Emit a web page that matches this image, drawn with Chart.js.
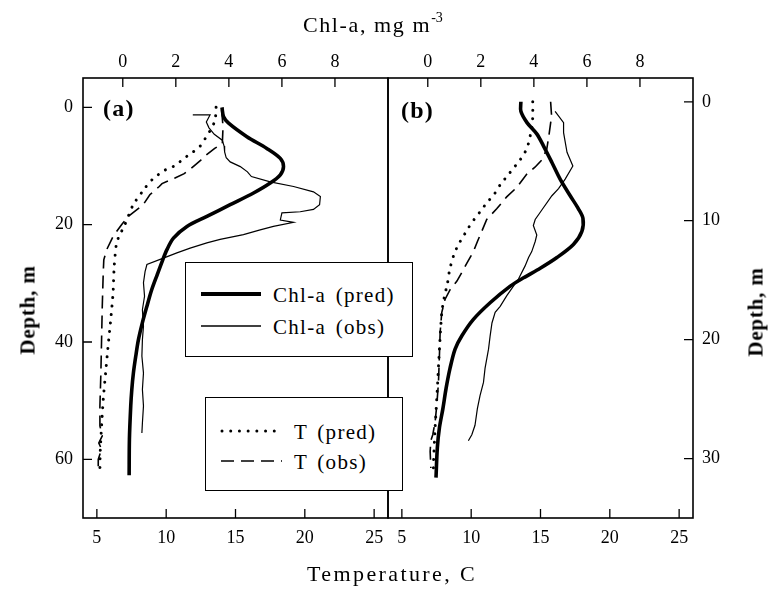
<!DOCTYPE html>
<html><head><meta charset="utf-8">
<script src="https://cdn.jsdelivr.net/npm/chart.js@4.4.0/dist/chart.umd.min.js"></script>
<style>
html,body{margin:0;padding:0;background:#fff;}
#wrap{position:relative;width:775px;height:591px;overflow:hidden;font-family:"Liberation Serif","Times New Roman",serif;color:#000;}
#c{position:absolute;left:0;top:0;}
.t{position:absolute;white-space:nowrap;line-height:1;}
.leg{position:absolute;background:#fff;border:1.4px solid #000;box-sizing:border-box;}
.leg svg{position:absolute;left:0;top:0;}
.lt{position:absolute;white-space:nowrap;font-size:21px;line-height:1;letter-spacing:1.3px;word-spacing:3px;transform:translateY(-50%);}
</style></head>
<body><div id="wrap">
<canvas id="c" width="775" height="591"></canvas>
<div class="t" style="left:303px;top:14px;font-size:22px;letter-spacing:1.6px;">Chl-a, mg m<span style="font-size:14px;position:relative;top:-10px;letter-spacing:0;">-3</span></div>
<div class="t" style="left:307px;top:563px;font-size:22px;letter-spacing:2.4px;">Temperature, C</div>
<div class="t" style="left:103px;top:96px;font-size:24px;font-weight:bold;letter-spacing:1.2px;">(a)</div>
<div class="t" style="left:401px;top:98px;font-size:24px;font-weight:bold;letter-spacing:1.2px;">(b)</div>
<div class="t" style="left:28px;top:310px;font-size:21px;font-weight:bold;letter-spacing:0.8px;transform:translate(-50%,-50%) rotate(-90deg);">Depth, m</div>
<div class="t" style="left:756px;top:312px;font-size:21px;font-weight:bold;letter-spacing:0.8px;transform:translate(-50%,-50%) rotate(-90deg);">Depth, m</div>
<div class="leg" style="left:185px;top:262px;width:228px;height:95px;">
  <svg width="228" height="95"><line x1="15" y1="31" x2="75" y2="31" stroke="#000" stroke-width="4"/><line x1="15" y1="63" x2="75" y2="63" stroke="#000" stroke-width="1.3"/></svg>
  <div class="lt" style="left:87px;top:32px;">Chl-a (pred)</div>
  <div class="lt" style="left:87px;top:64px;">Chl-a (obs)</div>
</div>
<div class="leg" style="left:205px;top:397px;width:198px;height:94px;">
  <svg width="198" height="94"><line x1="16" y1="33" x2="76" y2="33" stroke="#000" stroke-width="3" stroke-linecap="round" stroke-dasharray="0.01 8.7"/><line x1="15" y1="63" x2="76" y2="63" stroke="#000" stroke-width="1.6" stroke-dasharray="13 7"/></svg>
  <div class="lt" style="left:88px;top:34px;">T (pred)</div>
  <div class="lt" style="left:88px;top:64px;">T (obs)</div>
</div>
</div>
<script>
// ---- tick labels ----
const depthTicksA = [0, 20, 40, 60];
const depthTicksB = [0, 10, 20, 30];
const tempTicks = [5, 10, 15, 20, 25];
const chlTicks = [0, 2, 4, 6, 8];

// ---- panel (a) ----
const aChlPredDepth = [0, 1.6, 2.7, 5.0, 7.0, 8.7, 10.1, 11.5, 12.9, 14.6, 16.6, 18.6, 20.3, 22.3, 24.3, 26.2, 28.5, 31.1, 33.9, 36.7, 39.6, 42.4, 45.3, 48.1, 50.9, 56.6, 62.7];
const aChlPred      = [3.74, 3.80, 3.99, 4.68, 5.43, 5.94, 6.06, 5.94, 5.56, 4.93, 4.05, 3.17, 2.42, 1.91, 1.66, 1.49, 1.30, 1.09, 0.91, 0.74, 0.59, 0.49, 0.40, 0.34, 0.30, 0.25, 0.24];
const aChlObsDepth = [1.3, 1.3, 2.5, 3.5, 4.6, 5.6, 6.6, 7.6, 8.6, 9.3, 10.1, 11.0, 11.8, 12.7, 13.5, 14.4, 15.2, 16.6, 17.4, 17.8, 18.0, 19.2, 19.6, 20.3, 20.9, 21.7, 22.5, 23.1, 24.0, 24.8, 25.7, 26.8, 28.0, 29.9, 32.2, 34.5, 37.3, 39.6, 42.4, 45.3, 48.1, 50.9, 53.8, 55.5];
const aChlObs      = [2.64, 3.29, 3.15, 3.25, 3.45, 3.75, 3.82, 3.84, 3.90, 4.05, 4.43, 4.70, 4.85, 5.56, 6.44, 7.19, 7.45, 7.42, 7.19, 6.69, 6.00, 5.94, 6.44, 5.68, 5.18, 4.55, 3.67, 3.17, 2.54, 2.04, 1.53, 0.91, 0.84, 0.78, 0.82, 0.74, 0.78, 0.74, 0.72, 0.78, 0.74, 0.78, 0.74, 0.72];
const aTPredDepth = [0, 1.4, 2.4, 3.6, 5.0, 6.7, 7.6, 8.4, 9.3, 10.1, 10.7, 11.5, 12.7, 13.8, 16.6, 20.0, 21.7, 23.1, 27.1, 31.6, 36.2, 40.7, 45.3, 49.8, 54.3, 58.9, 61.7];
const aTPred      = [13.6, 13.57, 13.5, 13.26, 12.9, 12.42, 11.94, 11.46, 10.98, 10.5, 9.9, 9.42, 8.82, 8.46, 7.62, 7.02, 6.66, 6.42, 6.25, 6.17, 6.0, 5.81, 5.63, 5.46, 5.34, 5.24, 5.22];
const aTObsDepth = [0.5, 3.3, 6.2, 7.0, 8.1, 9.0, 9.8, 10.4, 11.3, 12.1, 13.0, 13.5, 14.9, 16.6, 18.6, 20.0, 22.0, 24.3, 26.0, 28.2, 33.9, 39.6, 45.3, 50.9, 54.3, 56.0, 57.2, 58.3, 60.0, 61.7];
const aTObs      = [14.0, 14.1, 14.05, 13.5, 12.9, 12.5, 12.1, 11.8, 11.3, 10.6, 9.7, 9.5, 8.82, 8.34, 7.26, 6.78, 6.17, 5.70, 5.50, 5.46, 5.39, 5.34, 5.29, 5.22, 5.22, 5.39, 5.14, 5.34, 5.10, 5.10];

// ---- panel (b) ----
const bChlPredDepth = [0, 0.8, 1.75, 2.7, 3.7, 5.1, 6.5, 7.9, 9.0, 9.8, 10.9, 12.0, 13.1, 14.0, 14.8, 15.5, 16.9, 18.3, 19.7, 20.8, 22.4, 24.1, 25.8, 27.4, 29.1, 31.6];
const bChlPred      = [3.51, 3.51, 3.74, 4.11, 4.36, 4.68, 4.99, 5.37, 5.68, 5.85, 5.81, 5.49, 4.87, 4.24, 3.61, 3.11, 2.35, 1.72, 1.28, 1.03, 0.84, 0.69, 0.57, 0.44, 0.36, 0.31];
const bChlObsDepth = [0.8, 1.75, 2.6, 4.25, 5.4, 6.5, 7.3, 7.9, 9.1, 9.9, 10.4, 11.2, 11.75, 12.6, 13.1, 13.8, 14.9, 15.5, 16.3, 17.2, 17.7, 18.6, 19.7, 20.8, 22.4, 23.6, 24.7, 25.8, 27.2, 28.0, 28.5];
const bChlObs      = [4.80, 5.12, 5.12, 5.25, 5.47, 5.18, 4.93, 4.68, 4.30, 4.05, 3.98, 4.11, 4.05, 3.92, 3.80, 3.67, 3.42, 3.23, 2.98, 2.73, 2.54, 2.42, 2.35, 2.29, 2.16, 2.10, 1.97, 1.87, 1.78, 1.66, 1.53];
const bTPredDepth = [0, 1.3, 2.2, 3.55, 4.25, 4.9, 5.6, 6.3, 7.0, 7.8, 8.5, 9.25, 9.9, 10.6, 11.3, 12.0, 12.8, 14.1, 15.2, 16.5, 17.7, 20.8, 24.1, 27.4, 30.5, 31.5];
const bTPred      = [14.44, 14.44, 14.37, 14.12, 13.88, 13.52, 13.04, 12.56, 12.08, 11.65, 11.12, 10.64, 10.21, 9.80, 9.44, 9.08, 8.77, 8.45, 8.30, 8.05, 7.88, 7.71, 7.56, 7.40, 7.28, 7.28];
const bTObsDepth = [0, 1.2, 2.9, 4.0, 4.9, 5.5, 6.1, 7.2, 8.0, 9.0, 9.9, 10.9, 11.75, 12.6, 13.55, 14.4, 15.1, 15.8, 16.6, 17.7, 19.4, 21.3, 23.6, 25.5, 26.9, 28.0, 28.5, 29.4, 30.8];
const bTObs      = [15.73, 15.8, 15.6, 15.45, 15.09, 14.6, 14.0, 13.29, 12.56, 11.84, 11.12, 10.76, 10.45, 10.16, 9.7, 9.3, 8.96, 8.48, 8.12, 7.88, 7.76, 7.71, 7.64, 7.52, 7.40, 7.23, 7.09, 7.04, 7.09];

const pts = (vals, depths) => vals.map((v, i) => ({x: v, y: depths[i]}));

const thick = {borderColor:'#000', borderWidth:3.6, pointRadius:0, tension:0.3, fill:false};
const thin  = {borderColor:'#000', borderWidth:1.2, pointRadius:0, tension:0, fill:false};
const dotted= {borderColor:'#000', borderWidth:3, pointRadius:0, tension:0.2, fill:false, borderDash:[0.01, 8.5], borderCapStyle:'round'};
const dashed= {borderColor:'#000', borderWidth:1.6, pointRadius:0, tension:0, fill:false, borderDash:[13, 7]};

const datasets = [
  Object.assign({label:'Chl-a (pred) a', data: pts(aChlPred, aChlPredDepth), xAxisID:'ca', yAxisID:'ya'}, thick),
  Object.assign({label:'Chl-a (obs) a', data: pts(aChlObs, aChlObsDepth), xAxisID:'ca', yAxisID:'ya'}, thin),
  Object.assign({label:'T (pred) a', data: pts(aTPred, aTPredDepth), xAxisID:'xa', yAxisID:'ya'}, dotted),
  Object.assign({label:'T (obs) a', data: pts(aTObs, aTObsDepth), xAxisID:'xa', yAxisID:'ya'}, dashed),
  Object.assign({label:'Chl-a (pred) b', data: pts(bChlPred, bChlPredDepth), xAxisID:'cb', yAxisID:'yb'}, thick),
  Object.assign({label:'Chl-a (obs) b', data: pts(bChlObs, bChlObsDepth), xAxisID:'cb', yAxisID:'yb'}, thin),
  Object.assign({label:'T (pred) b', data: pts(bTPred, bTPredDepth), xAxisID:'xb', yAxisID:'yb'}, dotted),
  Object.assign({label:'T (obs) b', data: pts(bTObs, bTObsDepth), xAxisID:'xb', yAxisID:'yb'}, dashed)
];

const font = {family:'"Liberation Serif", "Times New Roman", serif', size:18};
function axis(extra, tickArr, size, pad) {
  return Object.assign({
    type:'linear',
    grid:{display:false, drawTicks:false},
    border:{display:false},
    ticks:{font:font, color:'#000', padding:pad, autoSkip:false, maxRotation:0, minRotation:0},
    afterBuildTicks: s => { s.ticks = tickArr.map(v => ({value:v})); },
    afterFit: s => { if (s.isHorizontal()) s.height = size; else s.width = size; }
  }, extra);
}

const framePlugin = {
  id:'frame',
  afterDatasetsDraw(chart) {
    const ctx = chart.ctx, area = chart.chartArea, s = chart.scales;
    const L = 9;
    ctx.save();
    ctx.strokeStyle = '#000';
    ctx.lineWidth = 1.3;
    ctx.beginPath();
    const hTicks = (sc, yEdge, dir) => sc.ticks.forEach(t => { const x = sc.getPixelForValue(t.value); ctx.moveTo(x, yEdge); ctx.lineTo(x, yEdge + dir*L); });
    hTicks(s.xa, area.bottom, -1); hTicks(s.xb, area.bottom, -1);
    hTicks(s.ca, area.top, 1); hTicks(s.cb, area.top, 1);
    s.ya.ticks.forEach(t => { const y = s.ya.getPixelForValue(t.value); ctx.moveTo(area.left, y); ctx.lineTo(area.left + L, y); });
    s.yb.ticks.forEach(t => { const y = s.yb.getPixelForValue(t.value); ctx.moveTo(area.right, y); ctx.lineTo(area.right - L, y); });
    ctx.stroke();
    ctx.lineWidth = 1.6;
    [s.xa, s.xb].forEach(sc => ctx.strokeRect(sc.left, area.top, sc.right - sc.left, area.bottom - area.top));
    ctx.restore();
  }
};

// note: the layout places the top stack in reverse key order, so the top axis of panel (b) is listed first
new Chart(document.getElementById('c'), {
  type:'line',
  data:{datasets},
  options:{
    responsive:false, animation:false, devicePixelRatio:1,
    layout:{padding:0},
    plugins:{legend:{display:false}, tooltip:{enabled:false}},
    scales:{
      cb: axis({axis:'x', position:'top', stack:'top', stackWeight:1, min:-1.5, max:10}, chlTicks, 78, 5),
      ca: axis({axis:'x', position:'top', stack:'top', stackWeight:1, min:-1.5, max:10}, chlTicks, 78, 5),
      xa: axis({axis:'x', position:'bottom', stack:'bot', stackWeight:1, min:4, max:26}, tempTicks, 73, 9),
      xb: axis({axis:'x', position:'bottom', stack:'bot', stackWeight:1, min:4, max:26}, tempTicks, 73, 9),
      ya: axis({axis:'y', position:'left', min:-5, max:70, reverse:true}, depthTicksA, 83, 10),
      yb: axis({axis:'y', position:'right', min:-2, max:35, reverse:true}, depthTicksB, 82, 9)
    }
  },
  plugins:[framePlugin]
});
</script>
</body></html>
